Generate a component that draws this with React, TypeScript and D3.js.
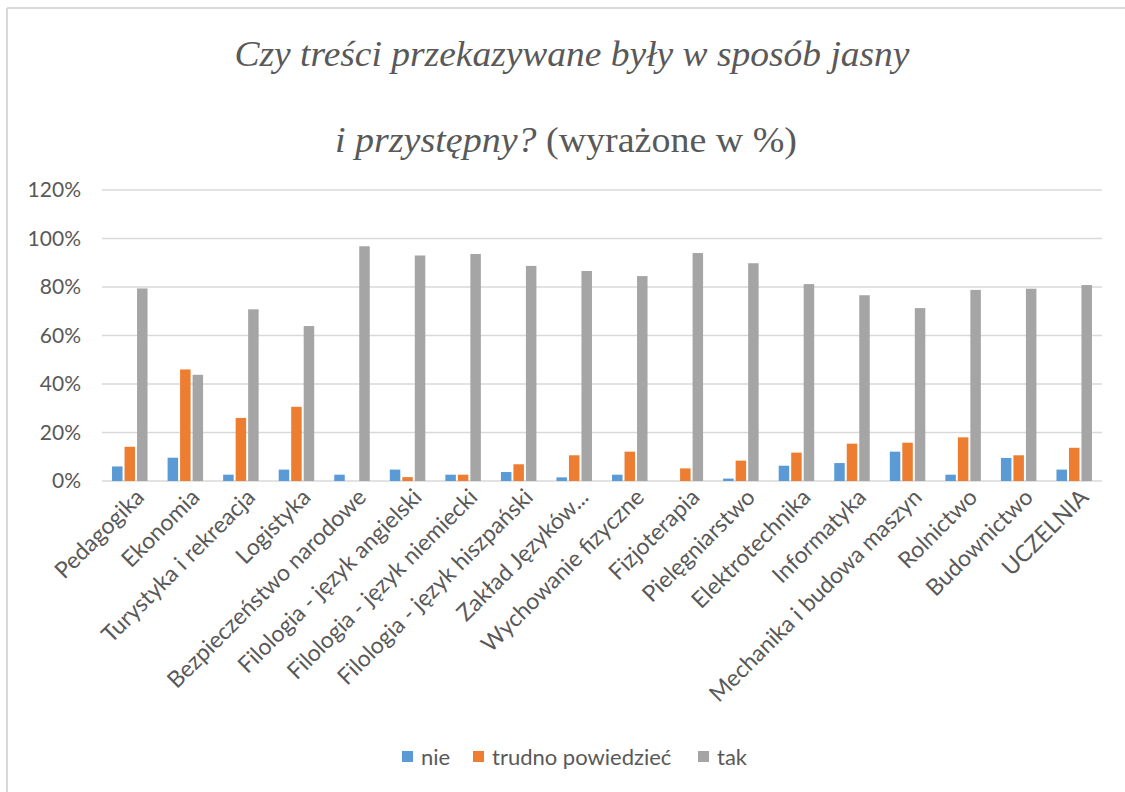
import React from "react";
import * as d3 from "d3";

const categories = [
  "Pedagogika", "Ekonomia", "Turystyka i rekreacja", "Logistyka",
  "Bezpieczeństwo narodowe", "Filologia - język angielski", "Filologia - język niemiecki",
  "Filologia - język hiszpański", "Zakład Języków...", "Wychowanie fizyczne",
  "Fizjoterapia", "Pielęgniarstwo", "Elektrotechnika", "Informatyka",
  "Mechanika i budowa maszyn", "Rolnictwo", "Budownictwo", "UCZELNIA",
];
const nie = [6, 9.6, 2.6, 4.7, 2.6, 4.7, 2.6, 3.7, 1.5, 2.6, 0, 1, 6.3, 7.4, 12.1, 2.6, 9.5, 4.7];
const trudno = [14.1, 46, 26, 30.6, 0, 1.6, 2.6, 6.9, 10.6, 12.1, 5.2, 8.4, 11.7, 15.4, 15.8, 18, 10.6, 13.7];
const tak = [79.4, 43.8, 70.8, 63.9, 96.8, 93, 93.6, 88.7, 86.6, 84.5, 94, 89.8, 81.2, 76.6, 71.3, 78.8, 79.3, 80.8];
const seriesNames = ["nie", "trudno powiedzieć", "tak"];
const seriesColors = ["#5b9bd5", "#ed7d31", "#a5a5a5"];
const yTicks = [0, 20, 40, 60, 80, 100, 120];

const W = 1125, H = 792;
const plotL = 102, plotR = 1102, plotT = 190, plotB = 481;
const FONT = "Lato, 'Open Sans', sans-serif";
const TXT = "#595959";

export default function App() {
  const series = [nie, trudno, tak];
  const x0 = d3.scaleBand<string>().domain(categories).range([plotL, plotR]).padding(0);
  const y = d3.scaleLinear().domain([0, 120]).range([plotB, plotT]);
  const bw = x0.bandwidth();
  const groupW = 37.5;
  const x1 = d3.scaleBand<string>().domain(seriesNames)
    .range([(bw - groupW) / 2, (bw + groupW) / 2]).padding(0);
  const barInset = 1;

  return (
    <div style={{ position: "absolute", left: 0, top: 0 }}>
      <svg width={W} height={H} style={{ display: "block", background: "#fff" }}>
        <rect x={0} y={0} width={W} height={H} fill="#fff" />
        {/* border */}
        <line x1={7} y1={8} x2={W} y2={8} stroke="#d9d9d9" strokeWidth={2} />
        <line x1={7} y1={8} x2={7} y2={H} stroke="#d9d9d9" strokeWidth={2} />

        {/* title */}
        <text x={572} y={66} fontFamily="'Liberation Serif', serif" fontStyle="italic"
          fontSize={36} fill={TXT} textAnchor="middle" textLength={675}
          lengthAdjust="spacingAndGlyphs">
          Czy treści przekazywane były w sposób jasny
        </text>
        <text x={566} y={152} fontFamily="'Liberation Serif', serif"
          fontSize={36} fill={TXT} textAnchor="middle" textLength={462}
          lengthAdjust="spacingAndGlyphs">
          <tspan fontStyle="italic">i przystępny?</tspan>
          <tspan> (wyrażone  w %)</tspan>
        </text>

        {/* gridlines */}
        {yTicks.map((t) => (
          <line key={t} x1={plotL} x2={plotR} y1={y(t)} y2={y(t)} stroke="#d9d9d9" strokeWidth={1.5} />
        ))}
        {/* y labels */}
        {yTicks.map((t) => (
          <text key={"l" + t} x={81} y={y(t)} dy="0.35em" textAnchor="end"
            fontFamily={FONT} fontSize={21} fill={TXT}>{t}%</text>
        ))}

        {/* bars */}
        {categories.map((c, i) => (
          <g key={c} transform={`translate(${x0(c)},0)`}>
            {series.map((s, j) => {
              const v = s[i];
              if (!v) return null;
              return (
                <rect key={j} x={(x1(seriesNames[j]) as number) + barInset}
                  width={x1.bandwidth() - 2 * barInset}
                  y={y(v)} height={y(0) - y(v)} fill={seriesColors[j]} />
              );
            })}
          </g>
        ))}

        {/* category labels */}
        {categories.map((c) => {
          const cx = (x0(c) as number) + bw / 2;
          return (
            <text key={"c" + c} transform={`translate(${cx + 10},${plotB + 12}) rotate(-45)`}
              textAnchor="end" dy="0.35em" fontFamily={FONT} fontSize={23} fill={TXT}>
              {c}
            </text>
          );
        })}

        {/* legend */}
        {seriesNames.map((n, j) => {
          const xs = [402, 473, 698][j];
          return (
            <g key={n}>
              <rect x={xs} y={751} width={11} height={11} fill={seriesColors[j]} />
              <text x={xs + 19} y={757} dy="0.35em" fontFamily={FONT} fontSize={22} fill={TXT}>{n}</text>
            </g>
          );
        })}
      </svg>
    </div>
  );
}
